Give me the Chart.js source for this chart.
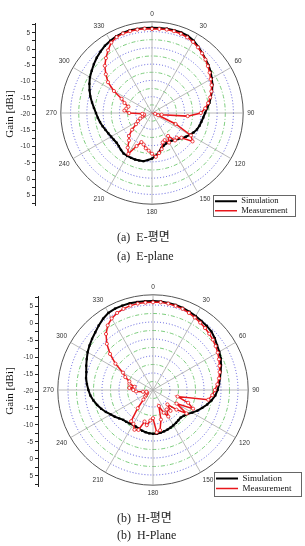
<!DOCTYPE html>
<html>
<head>
<meta charset="utf-8">
<script src="https://cdn.jsdelivr.net/npm/chart.js@4.4.1/dist/chart.umd.min.js"></script>
<style>
    html, body { margin: 0; padding: 0; background: #fff; }
    body { width: 305px; height: 546px; position: relative; overflow: hidden; }
    .box { position: absolute; }
    .legend { border: 1px solid #666; box-sizing: border-box; background: #fff; }
    .cap { position: absolute; left: 117px; font: 12px "Liberation Serif", "Noto Sans CJK KR", serif; color: #222; white-space: nowrap; line-height: 14px; }
</style>
</head>
<body>
<div class="box" style="left:0;top:0;width:305px;height:230px"><canvas id="eRadar"></canvas></div>
<div class="box" style="left:0;top:0;width:42px;height:230px"><canvas id="eAxis"></canvas></div>
<div class="box legend" style="left:213px;top:195px;width:83px;height:22px"><canvas id="eLegend"></canvas></div>
<div class="cap" style="top:230px">(a)&nbsp; E-평면</div>
<div class="cap" style="top:249px">(a)&nbsp; E-plane</div>

<div class="box" style="left:0;top:270px;width:305px;height:230px"><canvas id="hRadar"></canvas></div>
<div class="box" style="left:0;top:270px;width:45px;height:230px"><canvas id="hAxis"></canvas></div>
<div class="box legend" style="left:214px;top:472px;width:88px;height:25px"><canvas id="hLegend"></canvas></div>
<div class="cap" style="top:511px">(b)&nbsp; H-평면</div>
<div class="cap" style="top:528px">(b)&nbsp; H-Plane</div>

<script>
// Polar gain patterns, 5 degree steps, clockwise from 0 at the top
const ANGLES = ['0','5','10','15','20','25','30','35','40','45','50','55',
    '60','65','70','75','80','85','90','95','100','105','110','115',
    '120','125','130','135','140','145','150','155','160','165','170','175',
    '180','185','190','195','200','205','210','215','220','225','230','235',
    '240','245','250','255','260','265','270','275','280','285','290','295',
    '300','305','310','315','320','325','330','335','340','345','350','355'];

const R_MIN = -20;   // dBi at the centre
const R_MAX = 8;     // dBi at the outer ring

const E_SIM = [6.2, 6.2, 6.3, 6.3, 6.3, 6.1, 5.6, 4.8, 4.0, 3.3, 2.7, 2.0,
    1.2, 0.5, -0.4, -1.3, -2.1, -3.0, -3.7, -4.2, -4.6, -4.9, -5.3, -5.9,
    -6.6, -7.3, -8.0, -8.7, -9.2, -9.6, -9.7, -9.7, -9.4, -8.9, -7.8, -6.8,
    -6.0, -5.5, -5.0, -4.9, -4.8, -4.8, -4.8, -4.8, -5.2, -5.6, -5.8, -5.7,
    -5.5, -5.2, -4.8, -4.3, -3.8, -3.3, -2.8, -2.1, -1.3, -0.4, 0.4, 1.2,
    2.0, 2.6, 3.3, 4.0, 4.6, 5.2, 5.6, 6.0, 6.2, 6.3, 6.2, 6.2];

const E_MEAS = [5.8, 5.9, 6.0, 6.0, 5.9, 5.6, 5.2, 4.6, 3.9, 3.2, 2.4, 1.6,
    0.8, 0.2, -0.6, -1.5, -2.5, -3.6, -5.0, -9.0, -17.0, -19.0, -18.0, -12.0,
    -6.2, -4.8, -8.2, -9.3, -9.0, -11.4, -9.5, -10.8, -10.4, -8.5, -7.5, -6.5,
    -7.5, -8.4, -9.0, -10.0, -10.5, -8.8, -5.5, -7.0, -9.0, -10.0, -12.0, -14.0,
    -15.0, -16.0, -17.0, -17.5, -17.5, -17.0, -13.0, -11.5, -12.0, -12.5, -11.0, -9.7,
    -6.5, -3.5, -1.5, 0.5, 2.0, 3.5, 5.0, 5.7, 6.0, 6.0, 6.0, 6.0];

const H_SIM = [6.2, 6.1, 6.0, 5.9, 5.7, 5.4, 5.1, 4.8, 4.6, 4.3, 3.7, 3.0,
    2.5, 2.0, 1.3, 0.6, 0.0, -0.5, -1.0, -1.6, -2.5, -3.5, -4.6, -5.6,
    -6.7, -7.7, -8.2, -8.5, -8.4, -8.2, -8.0, -7.8, -7.6, -7.4, -7.2, -7.1,
    -7.1, -7.2, -7.4, -7.6, -7.9, -8.1, -8.2, -8.0, -7.8, -7.6, -7.0, -6.3,
    -5.6, -4.7, -3.8, -3.0, -2.2, -1.5, -1.0, -0.5, 0.0, 0.3, 0.9, 1.5,
    2.2, 2.8, 3.4, 4.0, 4.8, 5.6, 6.2, 6.4, 6.4, 6.4, 6.3, 6.2];

const H_MEAS = [5.8, 5.9, 5.8, 5.6, 5.4, 5.0, 4.6, 4.2, 3.8, 3.4, 3.0, 2.5,
    2.0, 1.4, 0.8, 0.3, -0.3, -1.0, -1.8, -2.5, -3.5, -12.5, -9.0, -7.0,
    -12.0, -8.0, -11.0, -14.0, -12.0, -13.0, -11.0, -12.6, -15.0, -11.0, -8.0, -7.5,
    -11.7, -11.0, -9.5, -10.4, -7.5, -7.1, -8.5, -8.8, -13.0, -16.0, -17.0, -17.5,
    -18.0, -18.0, -18.0, -18.0, -17.0, -15.0, -14.2, -13.0, -14.5, -12.8, -12.6, -11.0,
    -9.8, -6.5, -3.5, -0.8, 1.5, 3.2, 4.3, 5.0, 5.4, 5.7, 5.8, 5.8];

const SERIES_NAMES = ['Simulation', 'Measurement'];

const SIM_STYLE = {
    borderColor: '#000000', backgroundColor: '#000000', borderWidth: 2,
    pointStyle: 'rect', pointRadius: 1.6, pointBackgroundColor: '#000000', pointBorderWidth: 0
};
const MEAS_STYLE = {
    borderColor: '#e8161b', backgroundColor: '#e8161b', borderWidth: 1.5,
    pointStyle: 'circle', pointRadius: 1.6, pointBackgroundColor: '#ffffff',
    pointBorderColor: '#e8161b', pointBorderWidth: 0.8
};

const SMALL_FONT = { family: '"Liberation Sans", Arial, sans-serif', size: 6.5 };

function ringColor(ctx) {
    const v = ctx.tick.value;
    if (v >= R_MAX) return '#555555';
    return v % 5 === 0 ? '#3b3bd6' : '#5cc05c';
}
function ringDash(ctx) {
    const v = ctx.tick.value;
    if (v >= R_MAX) return [];
    return v % 5 === 0 ? [1, 2] : [4, 2, 1, 2];
}

function makeRadar(canvasId, sim, meas, padding) {
    return new Chart(document.getElementById(canvasId), {
        type: 'radar',
        data: {
            labels: ANGLES,
            datasets: [
                // measurement first so it sits on top of the simulation trace
                Object.assign({ label: SERIES_NAMES[1], data: meas, fill: false }, MEAS_STYLE),
                Object.assign({ label: SERIES_NAMES[0], data: sim, fill: false }, SIM_STYLE)
            ]
        },
        options: {
            responsive: true,
            maintainAspectRatio: false,
            animation: false,
            layout: { padding },
            elements: { line: { tension: 0 } },
            plugins: { legend: { display: false }, tooltip: { enabled: false } },
            scales: {
                r: {
                    min: R_MIN,
                    max: R_MAX,
                    ticks: { display: false, stepSize: 2.5 },
                    grid: {
                        circular: true,
                        color: ringColor,
                        lineWidth: ctx => ctx.tick.value >= R_MAX ? 1 : 0.8
                    },
                    border: { dash: ringDash },
                    angleLines: {
                        color: '#a8a8a8',
                        lineWidth: ctx => ctx.index % 6 === 0 ? 0.8 : 0
                    },
                    pointLabels: {
                        font: SMALL_FONT,
                        color: '#333333',
                        padding: 4,
                        callback: (label, i) => i % 6 === 0 ? label : ''
                    }
                }
            }
        }
    });
}

function makeAxis(canvasId, padding, axisWidth) {
    const span = R_MAX - R_MIN;
    return new Chart(document.getElementById(canvasId), {
        type: 'line',
        data: { labels: [], datasets: [] },
        options: {
            responsive: true,
            maintainAspectRatio: false,
            animation: false,
            layout: { padding },
            plugins: { legend: { display: false }, tooltip: { enabled: false } },
            scales: {
                x: { display: false },
                y: {
                    min: -span,
                    max: span,
                    afterFit: scale => { scale.width = axisWidth; },
                    ticks: {
                        stepSize: 2.5,
                        includeBounds: false,
                        autoSkip: false,
                        padding: 2,
                        font: SMALL_FONT,
                        color: '#333333',
                        // mirrored radial axis: centre is R_MIN, both ends go up to R_MAX
                        callback: v => v % 5 === 0 ? String(Math.abs(v) + R_MIN) : ''
                    },
                    grid: { drawOnChartArea: false, tickLength: 3, color: '#222222' },
                    border: { color: '#222222', width: 1 },
                    title: {
                        display: true,
                        text: 'Gain [dBi]',
                        color: '#111111',
                        font: { family: '"Liberation Serif", serif', size: 11 },
                        padding: { top: 4, bottom: 0 }
                    }
                }
            }
        }
    });
}

function makeLegend(canvasId, fontSize) {
    const styles = [SIM_STYLE, MEAS_STYLE];
    return new Chart(document.getElementById(canvasId), {
        type: 'line',
        data: {
            datasets: [
                Object.assign({ label: SERIES_NAMES[0], data: [] }, SIM_STYLE),
                Object.assign({ label: SERIES_NAMES[1], data: [] }, MEAS_STYLE)
            ]
        },
        options: {
            responsive: true,
            maintainAspectRatio: false,
            animation: false,
            scales: { x: { display: false }, y: { display: false } },
            plugins: {
                tooltip: { enabled: false },
                legend: {
                    position: 'top',
                    align: 'start',
                    maxHeight: 40,
                    labels: {
                        usePointStyle: true,
                        pointStyle: 'line',
                        pointStyleWidth: 22,
                        padding: 1,
                        color: '#111111',
                        font: { family: '"Liberation Serif", serif', size: fontSize },
                        generateLabels(chart) {
                            const items = Chart.defaults.plugins.legend.labels.generateLabels(chart);
                            return items.map((item, i) => Object.assign(item, {
                                strokeStyle: styles[i].borderColor,
                                lineWidth: styles[i].borderWidth
                            }));
                        }
                    }
                }
            }
        }
    });
}

makeRadar('eRadar', E_SIM, E_MEAS, { top: 11, bottom: 13, left: 0, right: 0 });
makeAxis('eAxis', { top: 23, bottom: 25, left: 0, right: 0 }, 35);
makeLegend('eLegend', 8.5);

makeRadar('hRadar', H_SIM, H_MEAS, { top: 14, bottom: 2, left: 1, right: 0 });
makeAxis('hAxis', { top: 26, bottom: 14, left: 0, right: 0 }, 38);
makeLegend('hLegend', 9);
</script>
</body>
</html>
